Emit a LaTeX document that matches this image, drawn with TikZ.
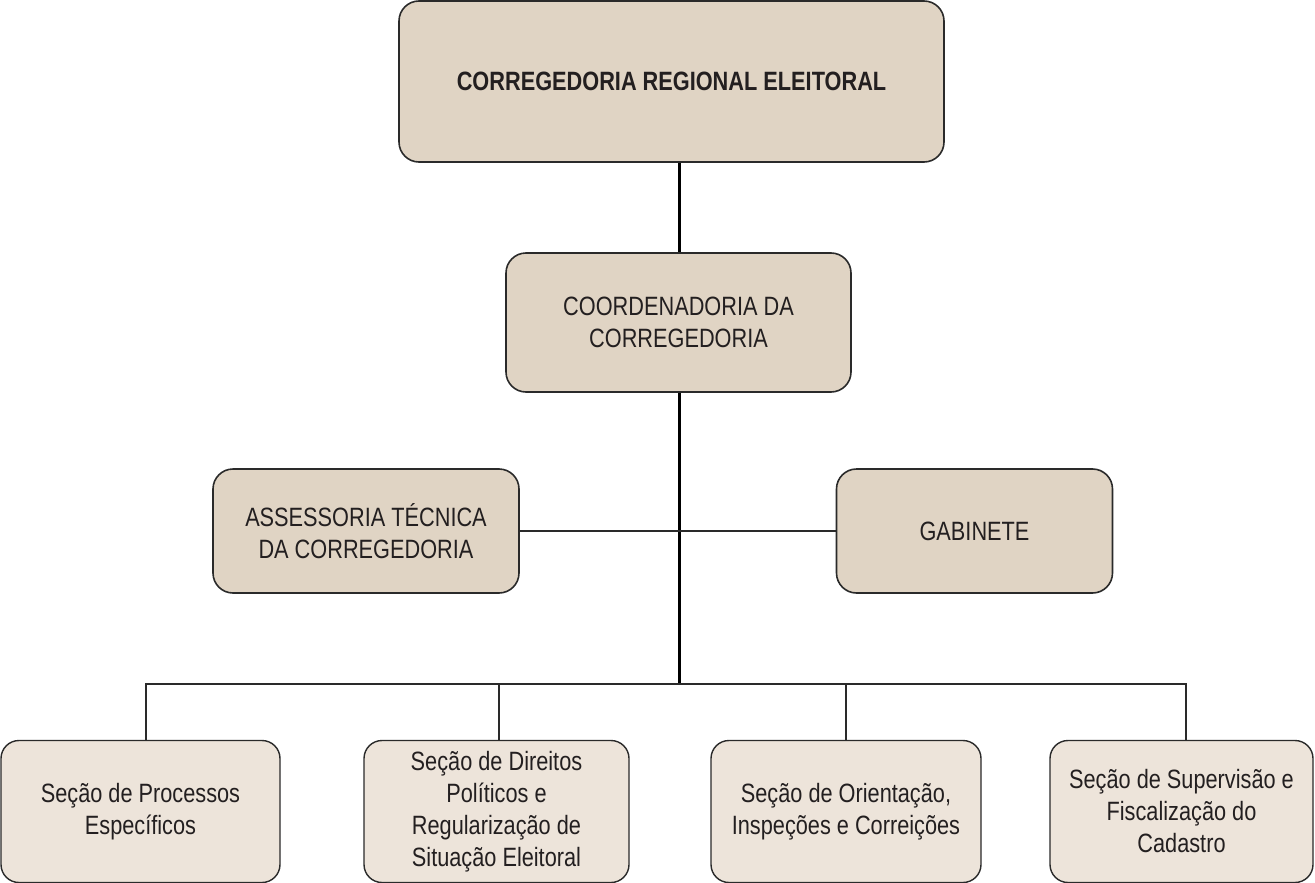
\documentclass[tikz,border=0pt]{standalone}
\usepackage{fontspec}
\setmainfont{Liberation Sans}[FakeStretch=0.82]
\begin{document}
\begin{tikzpicture}[x=1pt,y=-1pt,
  every node/.style={font=\fontsize{26.5}{32}\selectfont, text=txt},
  upper/.style={draw=bord, line width=1.6pt, fill=fillA, rounded corners=20pt, align=center, inner sep=0pt},
  lower/.style={draw=bord, line width=1.4pt, fill=fillB, rounded corners=18pt, align=center, inner sep=0pt, minimum height=142pt},
  trunk/.style={draw=black, line width=3pt},
  thin/.style={draw=bord, line width=1.5pt}]
\definecolor{fillA}{HTML}{E0D4C4}
\definecolor{fillB}{HTML}{EDE4DA}
\definecolor{bord}{HTML}{2A2A2A}
\definecolor{txt}{HTML}{231F20}
\useasboundingbox (0,0) rectangle (1315,883);
\fill[white] (0,0) rectangle (1315,883);

\coordinate (bus) at (679,684);
\coordinate (busL) at (146,684);
\coordinate (busR) at (1186,684);

\node[upper, minimum width=545pt, minimum height=161pt] (top) at (671.5,81.5) {\bfseries CORREGEDORIA REGIONAL ELEITORAL};
\node[upper, minimum width=345pt, minimum height=139pt] (coord) at (678.5,322.5) {COORDENADORIA DA\\CORREGEDORIA};
\node[upper, minimum width=306pt, minimum height=124pt] (ass) at (366,531) {ASSESSORIA TÉCNICA\\DA CORREGEDORIA};
\node[upper, minimum width=276pt, minimum height=124pt] (gab) at (974.5,531) {GABINETE};

\node[lower, minimum width=279pt] (b1) at (140.5,811.5) {Seção de Processos\\Específicos};
\node[lower, minimum width=265pt] (b2) at (496.5,811.5) {Seção de Direitos\\Políticos e\\Regularização de\\Situação Eleitoral};
\node[lower, minimum width=270pt] (b3) at (846,811.5) {Seção de Orientação,\\Inspeções e Correições};
\node[lower, minimum width=263pt] (b4) at (1181.5,811.5) {Seção de Supervisão e\\Fiscalização do\\Cadastro};

\draw[trunk] (top.south -| bus) -- (coord.north -| bus);
\draw[trunk] (coord.south -| bus) -- (bus);
\draw[thin] (ass.east) -- (gab.west);
\draw[thin] (b1.north -| busL) -- (busL) -- (busR) -- (b4.north -| busR);
\draw[thin] (b2.north -| 499,0) -- (499,684);
\draw[thin] (b3.north -| 846,0) -- (846,684);
\end{tikzpicture}
\end{document}
